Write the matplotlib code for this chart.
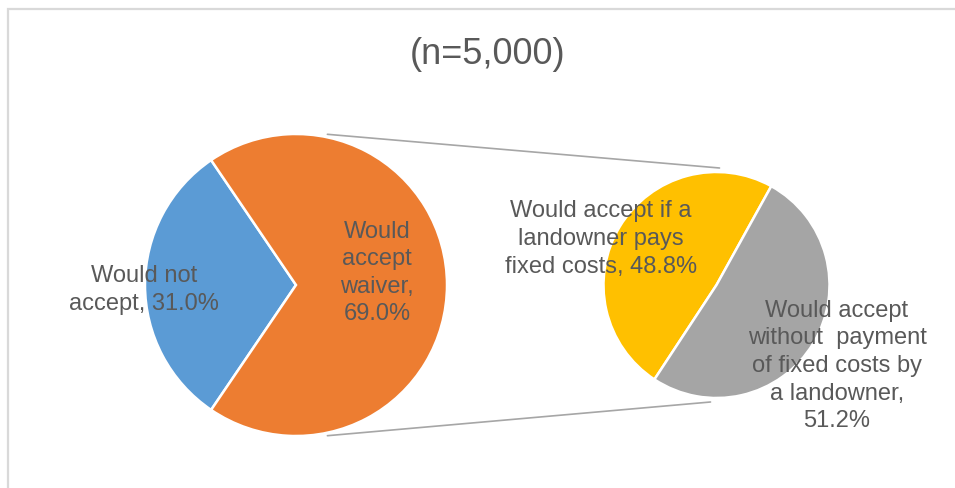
import matplotlib
matplotlib.use("Agg")
import matplotlib.pyplot as plt
import numpy as np
from matplotlib.patches import Rectangle

# ---- data ----
title = "(n=5,000)"
main_labels = ["Would not\naccept, 31.0%", "Would\naccept\nwaiver,\n69.0%"]
main_values = [31.0, 69.0]
sub_labels = ["Would accept if a\nlandowner pays\nfixed costs, 48.8%",
              "Would accept\nwithout  payment\nof fixed costs by\na landowner,\n51.2%"]
sub_values = [48.8, 51.2]
main_colors = ["#5B9BD5", "#ED7D31"]
sub_colors = ["#FFC000", "#A5A5A5"]

W, H = 955, 489
plt.rcParams['font.family'] = ['Liberation Sans', 'DejaVu Sans']
fig = plt.figure(figsize=(W / 100, H / 100), dpi=100)
ax = fig.add_axes([0, 0, 1, 1])
ax.set_xlim(0, W)
ax.set_ylim(0, H)
ax.set_aspect('equal')
ax.axis('off')

def Y(y):
    return H - y

txt_color = "#595959"

# frame
ax.add_patch(Rectangle((8, -20), 1000, Y(10) + 20, fill=False,
                       edgecolor="#D9D9D9", linewidth=1.6))

# main pie
c1 = (296, Y(286)); r1 = 151
start1 = 180 - main_values[0] * 3.6 / 2
ax.pie(main_values, colors=main_colors, startangle=start1, counterclock=True,
       center=c1, radius=r1, frame=True,
       wedgeprops=dict(edgecolor='white', linewidth=1.8))

# second pie
c2 = (716.5, Y(286)); r2 = 113
ax.pie(sub_values, colors=sub_colors, startangle=61, counterclock=True,
       center=c2, radius=r2, frame=True,
       wedgeprops=dict(edgecolor='white', linewidth=1.8))
ax.set_xlim(0, W)
ax.set_ylim(0, H)
ax.axis('off')

# connector lines
a = np.deg2rad(78)
p_top = (c1[0] + r1 * np.cos(a), c1[1] + r1 * np.sin(a) + 3)
p_bot = (c1[0] + r1 * np.cos(-a) + 0, c1[1] - r1 * np.sin(a) - 3)
q_top = (c2[0] + 3, c2[1] + r2 + 4)
q_bot = (c2[0] - 6, c2[1] - r2 - 4)
for p, q in [(p_top, q_top), (p_bot, q_bot)]:
    ax.plot([p[0], q[0]], [p[1], q[1]], color="#A6A6A6", linewidth=1.2,
            solid_capstyle='round')

# title
ax.text(487.5, Y(55), title, ha='center', va='center', fontsize=26,
        color=txt_color)

# labels
lab_kw = dict(ha='center', va='center', multialignment='center', fontsize=17,
              color=txt_color, linespacing=1.33)
ax.text(144, Y(290), main_labels[0], **lab_kw)
ax.text(377, Y(273), main_labels[1], **lab_kw)
ax.text(601, Y(239), sub_labels[0], **lab_kw)
ax.text(837, Y(366), sub_labels[1], **lab_kw)

fig.savefig("out.png", dpi=100)
